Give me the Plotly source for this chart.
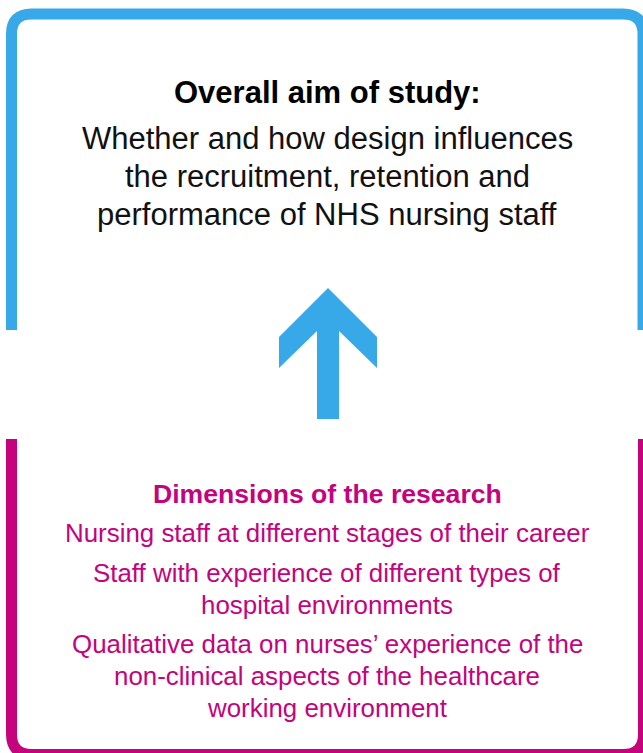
import plotly.graph_objects as go

W, H = 643, 753
BLUE = "#37A8E8"
MAGENTA = "#C4037D"

aim_title = "Overall aim of study:"
aim_lines = ["Whether and how design influences",
             "the recruitment, retention and",
             "performance of NHS nursing staff"]
aim_y = [138, 176, 214]

dim_title = "Dimensions of the research"
dim_lines = ["Nursing staff at different stages of their career",
             "Staff with experience of different types of",
             "hospital environments",
             "Qualitative data on nurses\u2019 experience of the",
             "non-clinical aspects of the healthcare",
             "working environment"]
dim_y = [533, 573, 605, 644, 676, 708]

FONT = "Liberation Sans, Arial, Helvetica, sans-serif"
CX = 327

fig = go.Figure()
shapes = [
    dict(type="path", path="M 11.5,330 V 34 Q 11.5,14 31.5,14 H 623 Q 643,14 643,34 V 330",
         line=dict(color=BLUE, width=11), layer="below"),
    dict(type="path", path="M 11.5,439 V 734 Q 11.5,754.5 31.5,754.5 H 623 Q 643.5,754.5 643.5,734 V 439",
         line=dict(color=MAGENTA, width=11), layer="below"),
    dict(type="path",
         path="M 328,288 L 377,337 L 377,368 L 339,331 L 339,419 L 317,419 L 317,331 L 279,368 L 279,337 Z",
         fillcolor=BLUE, line=dict(width=0), layer="below"),
]

ann = []
ann.append(dict(x=CX, y=92, text=f"<b>{aim_title}</b>", showarrow=False,
                font=dict(family=FONT, size=31, color="black"), xanchor="center", yanchor="middle"))
for t, y in zip(aim_lines, aim_y):
    ann.append(dict(x=CX, y=y, text=t, showarrow=False,
                    font=dict(family=FONT, size=31, color="#111111"), xanchor="center", yanchor="middle"))
ann.append(dict(x=CX, y=494, text=f"<b>{dim_title}</b>", showarrow=False,
                font=dict(family=FONT, size=26.6, color=MAGENTA), xanchor="center", yanchor="middle"))
for t, y in zip(dim_lines, dim_y):
    ann.append(dict(x=CX, y=y, text=t, showarrow=False,
                    font=dict(family=FONT, size=25.9, color=MAGENTA), xanchor="center", yanchor="middle"))

fig.update_layout(
    width=W, height=H, margin=dict(l=0, r=0, t=0, b=0),
    paper_bgcolor="white", plot_bgcolor="white",
    xaxis=dict(range=[0, W], visible=False, fixedrange=True),
    yaxis=dict(range=[H, 0], visible=False, fixedrange=True),
    shapes=shapes, annotations=ann, showlegend=False,
)
fig.write_html("out.html", config={"displayModeBar": False},
               post_script="document.body.style.margin='0';document.body.style.overflow='hidden';")
